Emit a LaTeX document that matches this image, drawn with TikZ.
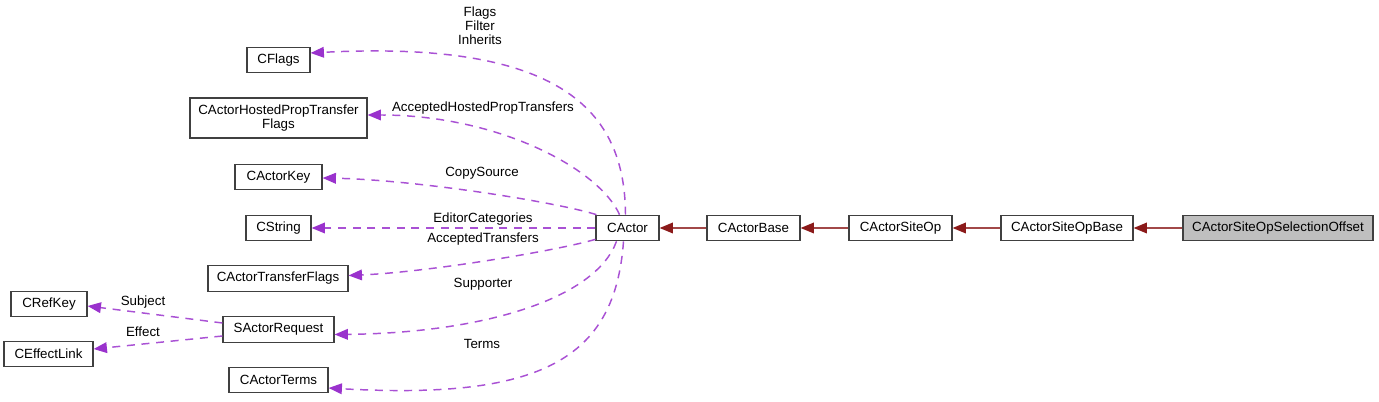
\documentclass[tikz,border=0pt]{standalone}
\usepackage{fontspec}
\setmainfont{Liberation Sans}
\usetikzlibrary{arrows.meta,calc}
\definecolor{edgepurple}{HTML}{9A32CD}
\definecolor{edgered}{HTML}{8B1A1A}
\definecolor{boxgray}{HTML}{BFBFBF}
\definecolor{boxline}{HTML}{404040}
\tikzset{
  cls/.style={draw=boxline, line width=0.9pt, fill=white, inner sep=0pt,
    minimum height=#1*0.75pt, font=\fontsize{10}{10.5}\selectfont, align=center},
  cls/.default=25.5,
  wd/.style={minimum width=#1*0.75pt},
  sel/.style={fill=boxgray},
  usage/.style={draw=edgepurple!85!white, line width=1.1pt, dash pattern=on 6pt off 5pt,
    -{Triangle[length=10pt,width=8pt,fill=edgepurple,color=edgepurple]}},
  inherit/.style={draw=edgered!80!white, line width=1.1pt,
    -{Triangle[length=10pt,width=8pt,fill=edgered,color=edgered]}},
  lbl/.style={inner sep=0pt, font=\fontsize{10}{10.5}\selectfont, align=center}
}
\begin{document}
\begin{tikzpicture}[x=0.75pt,y=-0.75pt]
\useasboundingbox (0,0) rectangle (1379,402);
% nodes
\node[cls, wd=63] (CFlags) at (278.5,60) {CFlags};
\node[cls=40, wd=177] (CAHPTF) at (278.5,118) {CActorHostedPropTransfer\\Flags};
\node[cls, wd=87] (CActorKey) at (278.5,177) {CActorKey};
\node[cls, wd=65] (CString) at (278.5,228) {CString};
\node[cls, wd=140] (CATF) at (278,278.5) {CActorTransferFlags};
\node[cls, wd=76] (CRefKey) at (49,304) {CRefKey};
\node[cls, wd=111] (SActorRequest) at (278.5,329.5) {SActorRequest};
\node[cls, wd=89] (CEffectLink) at (48.5,354) {CEffectLink};
\node[cls, wd=99] (CActorTerms) at (278.5,380) {CActorTerms};
\node[cls, wd=63] (CActor) at (627.5,228) {CActor};
\node[cls, wd=93] (CActorBase) at (753.5,228) {CActorBase};
\node[cls, wd=103] (CActorSiteOp) at (900.5,228) {CActorSiteOp};
\node[cls, wd=132] (CActorSiteOpBase) at (1067,228) {CActorSiteOpBase};
\node[cls, wd=190, sel] (CASOSO) at (1278,228) {CActorSiteOpSelectionOffset};
% inheritance
\draw[inherit] (CASOSO.west) -- (CActorSiteOpBase.east);
\draw[inherit] (CActorSiteOpBase.west) -- (CActorSiteOp.east);
\draw[inherit] (CActorSiteOp.west) -- (CActorBase.east);
\draw[inherit] (CActorBase.west) -- (CActor.east);
% usage
\draw[usage] ($(CActor.north)+(-2,0)$) .. controls (625,110) and (560,40) .. ($(CFlags.east)+(0,-7)$);
\draw[usage] ($(CActor.north)+(-8,0)$) .. controls (600,170) and (500,115) .. ($(CAHPTF.east)+(0,-3)$);
\draw[usage] ($(CActor.north west)+(1,0)$) .. controls (560,203) and (420,180) .. ($(CActorKey.east)+(0,1)$);
\draw[usage] (CActor.west) -- (CString.east);
\draw[usage] ($(CActor.south west)+(0,-2)$) .. controls (560,250) and (430,272) .. ($(CATF.east)+(0,-3)$);
\draw[usage] ($(CActor.south)+(-11,0)$) .. controls (595,300) and (480,333) .. ($(SActorRequest.east)+(0,5)$);
\draw[usage] ($(CActor.south)+(-4,0)$) .. controls (615,360) and (540,400) .. ($(CActorTerms.east)+(0,8)$);
\draw[usage] ($(SActorRequest.west)+(0,-6.5)$) -- ($(CRefKey.east)+(0,2)$);
\draw[usage] ($(SActorRequest.west)+(0,6.5)$) -- ($(CEffectLink.east)+(0,-5)$);
% labels
\node[lbl] (lFlags) at (480,26) {Flags\\Filter\\Inherits};
\node[lbl] (lAHPT) at (483,108) {AcceptedHostedPropTransfers};
\node[lbl] (lCopy) at (482,173) {CopySource};
\node[lbl] (lEdit) at (483,219) {EditorCategories};
\node[lbl] (lAT) at (483,239) {AcceptedTransfers};
\node[lbl] (lSup) at (483,284) {Supporter};
\node[lbl] (lTerms) at (482,344) {Terms};
\node[lbl] (lSubj) at (143,302) {Subject};
\node[lbl] (lEff) at (143,332) {Effect};
\end{tikzpicture}
\end{document}
